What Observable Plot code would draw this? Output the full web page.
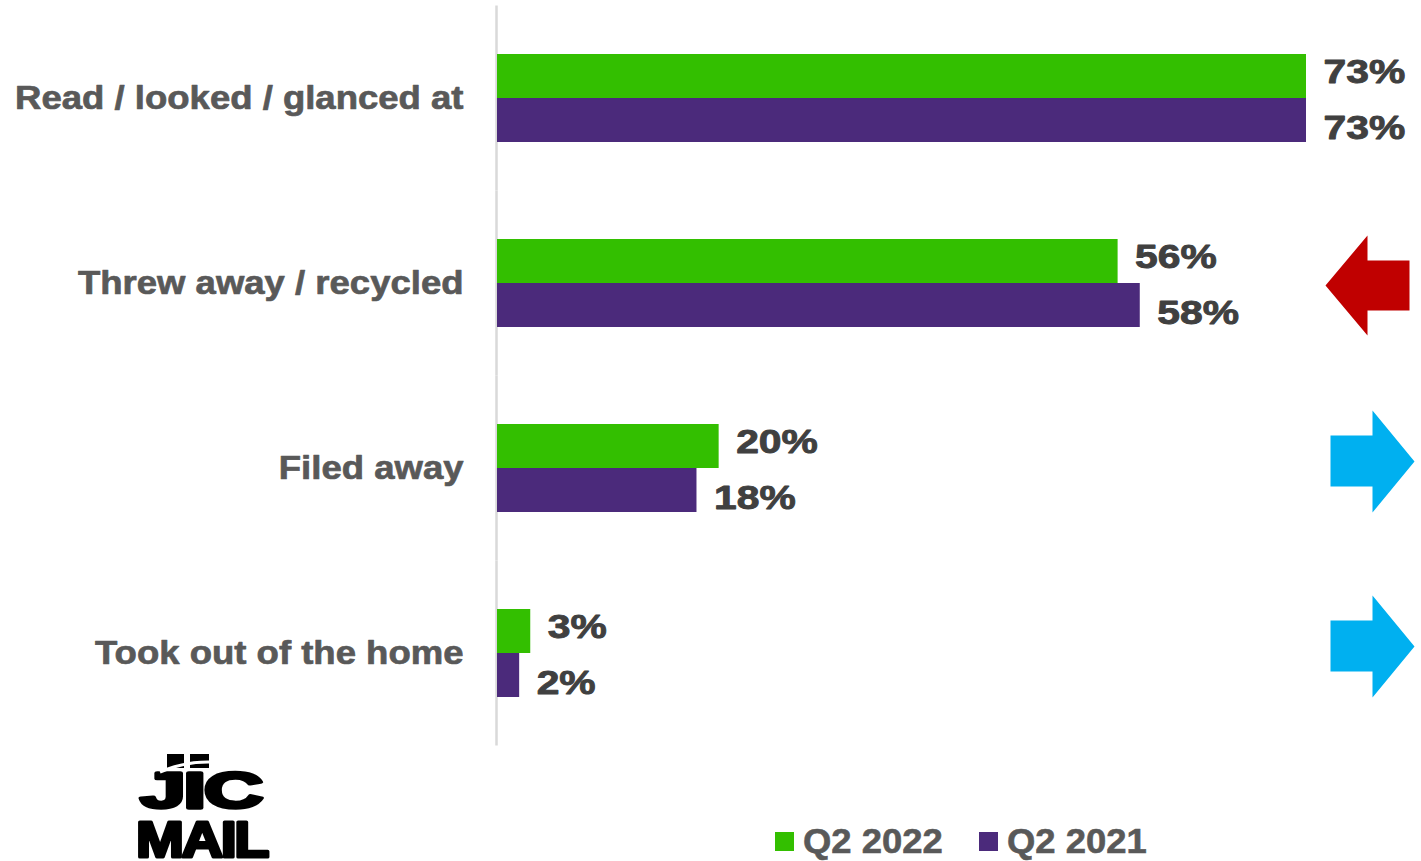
<!DOCTYPE html>
<html>
<head>
<meta charset="utf-8">
<script src="https://cdn.jsdelivr.net/npm/d3@7"></script>
<script src="https://cdn.jsdelivr.net/npm/@observablehq/plot@0.6"></script>
<style>
  html, body { margin: 0; padding: 0; background: #fff; }
  #wrap { width: 1421px; position: relative; font-family: "Liberation Sans", Arial, sans-serif; }
  #bottom { position: relative; width: 1421px; height: 111px; }
  #bottom svg { position: absolute; left: 0; top: 0; }
</style>
</head>
<body>
<div id="wrap"></div>
<script>
// ---- data ----
const categories = ["Read / looked / glanced at", "Threw away / recycled", "Filed away", "Took out of the home"];
const series = ["Q2 2022", "Q2 2021"];
const values2022 = [73, 56, 20, 3];
const values2021 = [73, 58, 18, 2];
const changes = ["", "down", "up", "up"];
const colors = ["#33bf00", "#4b2a7b"];

const data = categories.flatMap((c, i) => [
  {category: c, series: series[0], value: values2022[i]},
  {category: c, series: series[1], value: values2021[i]}
]);
const arrowData = categories.map((c, i) => ({category: c, change: changes[i]}));

// arrow symbols (drawn relative to the dot position)
const leftArrow = {
  draw(ctx) {
    ctx.moveTo(-42, 0); ctx.lineTo(0, -50); ctx.lineTo(0, -25); ctx.lineTo(42, -25);
    ctx.lineTo(42, 25); ctx.lineTo(0, 25); ctx.lineTo(0, 50); ctx.closePath();
  }
};
const rightArrow = {
  draw(ctx) {
    ctx.moveTo(42, 0); ctx.lineTo(0, -51); ctx.lineTo(0, -26); ctx.lineTo(-42, -26);
    ctx.lineTo(-42, 25); ctx.lineTo(0, 25); ctx.lineTo(0, 51); ctx.closePath();
  }
};

const font = "Liberation Sans, Arial, sans-serif";

const chart = Plot.plot({
  width: 1421,
  height: 750,
  marginLeft: 496,
  marginRight: 0,
  marginTop: 5.5,
  marginBottom: 4.5,
  style: {fontFamily: font, background: "#fff"},
  x: {domain: [0, d3.max(data, d => d.value)], range: [497, 1306], axis: null},
  y: {domain: series, paddingInner: 0, paddingOuter: 1.1023, round: false, axis: null},
  fy: {domain: categories, padding: 0, round: false, axis: null},
  color: {domain: series, range: colors},
  marks: [
    Plot.ruleX([0], {stroke: "#d9d9d9", strokeWidth: 2.5, dx: -1}),
    Plot.barX(data, {x: "value", y: "series", fy: "category", fill: "series"}),
    Plot.text(data.filter(d => d.series === series[0]), {
      x: "value", y: "series", fy: "category", text: d => d.value + "%",
      textAnchor: "start", dx: 17, dy: -4, fontSize: 34, fontWeight: "bold",
      fill: "#404040", stroke: "#404040", strokeWidth: 0.9
    }),
    Plot.text(data.filter(d => d.series === series[1]), {
      x: "value", y: "series", fy: "category", text: d => d.value + "%",
      textAnchor: "start", dx: 17, dy: 8, fontSize: 34, fontWeight: "bold",
      fill: "#404040", stroke: "#404040", strokeWidth: 0.9
    }),
    Plot.text(categories, {
      fy: d => d, text: d => d, frameAnchor: "left", textAnchor: "end", dx: -33,
      fontSize: 33.5, fontWeight: "bold", fill: "#595959", stroke: "#595959", strokeWidth: 0.7
    }),
    Plot.dot(arrowData.filter(d => d.change === "down"), {
      fy: "category", frameAnchor: "right", dx: -54, dy: 2,
      symbol: leftArrow, fill: "#c00000", stroke: "none"
    }),
    Plot.dot(arrowData.filter(d => d.change === "up"), {
      fy: "category", frameAnchor: "right", dx: -49, dy: -7,
      symbol: rightArrow, fill: "#00b0f0", stroke: "none"
    })
  ]
});

const wrap = document.getElementById("wrap");
wrap.appendChild(chart);

// stretch text glyphs horizontally to match the reference's wide lettering
function stretch(sel, factor) {
  chart.querySelectorAll(sel).forEach(t => {
    const w = t.getComputedTextLength();
    t.setAttribute("textLength", (w * factor).toFixed(1));
    t.setAttribute("lengthAdjust", "spacingAndGlyphs");
  });
}
stretch('g[font-size="34"] text', 1.2);
stretch('g[font-size="33.5"] text', 1.09);

// ---- bottom strip: logo + legend ----
const bottom = document.createElement("div");
bottom.id = "bottom";
wrap.appendChild(bottom);
const svg = d3.select(bottom).append("svg").attr("width", 1421).attr("height", 111)
  .style("font-family", font);

// logo
const logo = svg.append("g").attr("fill", "#000").attr("stroke", "#000").attr("stroke-linejoin", "round");
logo.append("text")
  .attr("transform", "translate(140,58) scale(1.72,1.05)")
  .attr("font-weight", "bold").attr("font-size", 48).attr("letter-spacing", -1.5)
  .attr("stroke-width", 3.2)
  .text("JIC");
logo.append("rect").attr("x", 167).attr("y", 4).attr("width", 17).attr("height", 14).attr("stroke", "none");
logo.append("rect").attr("x", 190).attr("y", 4).attr("width", 19).attr("height", 14).attr("stroke", "none");
logo.append("path").attr("d", "M160,22 Q190,9 224,13").attr("stroke", "#fff").attr("stroke-width", 3).attr("fill", "none");
logo.append("text")
  .attr("transform", "translate(136,107) scale(1.2,1.05)")
  .attr("font-weight", "bold").attr("font-size", 48).attr("letter-spacing", -2)
  .attr("stroke-width", 3)
  .text("MAIL");

// legend
const legendX = [775, 979];
series.forEach((s, i) => {
  svg.append("rect").attr("x", legendX[i]).attr("y", 82).attr("width", 19).attr("height", 19)
    .attr("fill", colors[i]);
  const t = svg.append("text").attr("x", legendX[i] + 28).attr("y", 103)
    .attr("font-size", 35).attr("font-weight", "bold").attr("fill", "#595959")
    .attr("stroke", "#595959").attr("stroke-width", 0.6).text(s);
  const w = t.node().getComputedTextLength();
  t.attr("textLength", (w * 1.04).toFixed(1)).attr("lengthAdjust", "spacingAndGlyphs");
});
</script>
</body>
</html>
